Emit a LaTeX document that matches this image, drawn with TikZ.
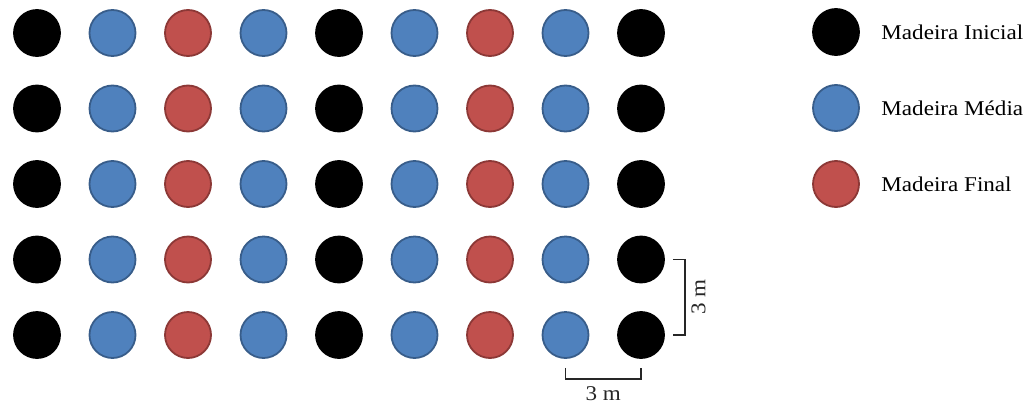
\documentclass[tikz,border=0pt]{standalone}
\usepackage{fontspec}
\setmainfont{Liberation Serif}[FakeStretch=1.1]
\usetikzlibrary{positioning}
\definecolor{medFill}{HTML}{4F81BD}
\definecolor{medLine}{HTML}{385D8A}
\definecolor{finFill}{HTML}{C0504D}
\definecolor{finLine}{HTML}{8C3836}
\tikzset{
	tree/.style={circle,minimum size=46pt,inner sep=0pt,line width=1.8pt},
	ini/.style={tree,fill=black,draw=black},
	med/.style={tree,fill=medFill,draw=medLine},
	fin/.style={tree,fill=finFill,draw=finLine},
	bracket/.style={line width=1.3pt,color=black!85}
}
\begin{document}
\begin{tikzpicture}[x=1pt,y=-1pt,font=\fontsize{21}{25}\selectfont]
	\useasboundingbox (0,0) rectangle (1024,412);
	\foreach \r in {1,...,5}{
		\foreach \c/\t in {1/ini,2/med,3/fin,4/med,5/ini,6/med,7/fin,8/med,9/ini}{
			\node [style=\t] at ({37+75.5*(\c-1)},{33+75.5*(\r-1)}) (p\r\c) {};
		}
	}
	\node [ini] at (836,32) (legIni) {};
	\node [med] at (836,108) (legMed) {};
	\node [fin] at (836,184) (legFin) {};
	\node [right=18pt of legIni] {Madeira Inicial};
	\node [right=18pt of legMed] {Madeira Média};
	\node [right=18pt of legFin] {Madeira Final};
	\draw [bracket] ([xshift=8pt]p49.east) -- ++(12,0) |- node [pos=0.25,rotate=90,anchor=north,inner sep=6pt] {3 m} ([xshift=8pt]p59.east);
	\draw [bracket] ([yshift=-9pt]p58.south) -- ++(0,11) -| node [pos=0.25,below,inner sep=7pt] {3 m} ([yshift=-9pt]p59.south);
\end{tikzpicture}
\end{document}
